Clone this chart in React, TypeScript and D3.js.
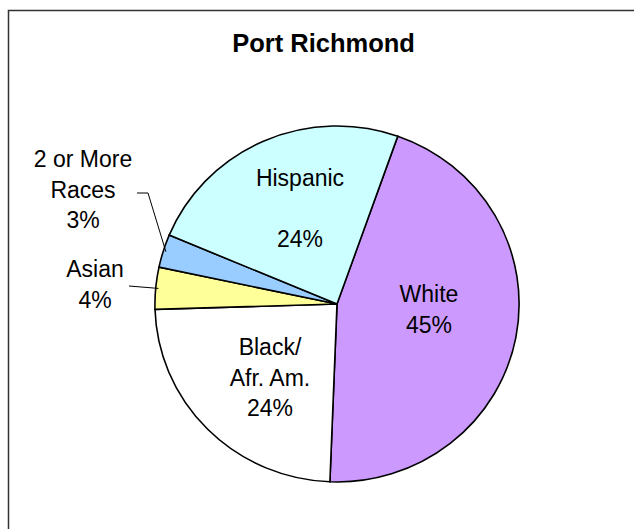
import React from "react";
import * as d3 from "d3";

const categories = ["White", "Black/Afr. Am.", "Asian", "2 or More Races", "Hispanic"];
const values = [45.2, 23.9, 3.8, 3.0, 24.1];
const labelLines = [
  ["White", "45%"],
  ["Black/", "Afr. Am.", "24%"],
  ["Asian", "4%"],
  ["2 or More", "Races", "3%"],
  ["Hispanic", "", "24%"],
];
const colors = ["#CC99FF", "#FFFFFF", "#FFFF99", "#99CCFF", "#CCFFFF"];

const W = 634;
const H = 529;
const cx = 337;
const cy = 304;
const rx = 182;
const ry = 178;
const startDeg = 19.5;
const fontFamily = "'Liberation Sans', Arial, Helvetica, sans-serif";

// label layout (first-line baseline, centre x), in page coordinates
const labelPos = [
  { x: 429, y: 302 },
  { x: 270, y: 355 },
  { x: 95, y: 277 },
  { x: 83, y: 167 },
  { x: 300, y: 186 },
];
const lineH = 30.5;
// leader start points for outside labels (index -> [start, elbow])
const leaders: Record<number, [number, number][]> = {
  2: [[129, 286]],
  3: [[137, 193], [148, 193]],
};

export default function App() {
  const pie = d3
    .pie<number>()
    .sort(null)
    .value((d) => d)
    .startAngle((startDeg * Math.PI) / 180)
    .endAngle((startDeg * Math.PI) / 180 + 2 * Math.PI);
  const arcs = pie(values);
  const arc = d3.arc<d3.PieArcDatum<number>>().innerRadius(0).outerRadius(1);

  const edgePoint = (a: d3.PieArcDatum<number>, k = 1) => {
    const m = (a.startAngle + a.endAngle) / 2;
    return [cx + rx * k * Math.sin(m), cy - ry * k * Math.cos(m)];
  };

  return (
    <div style={{ position: "absolute", left: 0, top: 0 }}>
      <svg width={W} height={H} style={{ display: "block" }}>
        <rect x={0} y={0} width={W} height={H} fill="#FFFFFF" />
        <rect x={8.5} y={10.5} width={W + 20} height={H + 20} fill="#FFFFFF" stroke="#333333" strokeWidth={1.5} />
        <text
          x={323.5}
          y={51.5}
          textAnchor="middle"
          fontFamily={fontFamily}
          fontWeight="bold"
          fontSize={25.5}
          fill="#000"
        >
          Port Richmond
        </text>
        <g transform={`translate(${cx},${cy}) scale(${rx},${ry})`}>
          {arcs.map((a, i) => (
            <path
              key={categories[i]}
              d={arc(a) || ""}
              fill={colors[i]}
              stroke="#000"
              strokeWidth={1.6}
              vectorEffect="non-scaling-stroke"
            />
          ))}
        </g>
        {Object.entries(leaders).map(([k, pts]) => {
          const i = Number(k);
          const end = edgePoint(arcs[i], 0.985);
          const all = [...pts, end as [number, number]];
          return (
            <polyline
              key={"l" + k}
              points={all.map((p) => p.join(",")).join(" ")}
              fill="none"
              stroke="#000"
              strokeWidth={1}
            />
          );
        })}
        {labelLines.map((lines, i) => (
          <text
            key={"t" + i}
            textAnchor="middle"
            fontFamily={fontFamily}
            fontSize={23}
            fill="#000"
          >
            {lines.map((ln, j) => (
              <tspan key={j} x={labelPos[i].x} y={labelPos[i].y + j * lineH}>
                {ln}
              </tspan>
            ))}
          </text>
        ))}
      </svg>
    </div>
  );
}
